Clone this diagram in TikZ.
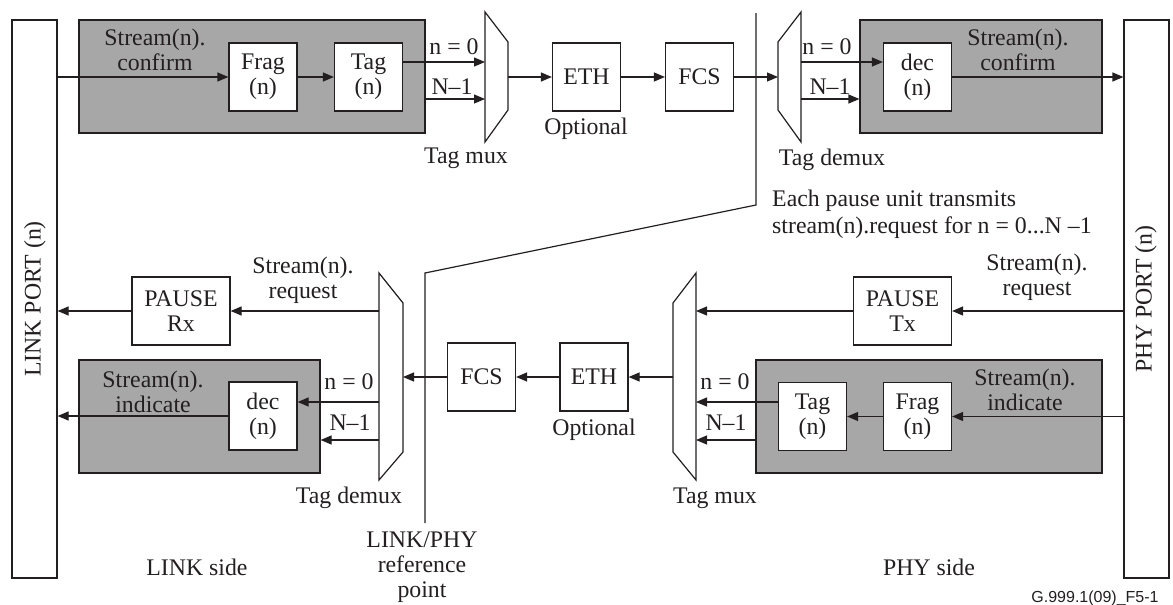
\documentclass[tikz,border=0pt]{standalone}
\usepackage{fontspec}
\setmainfont{Liberation Serif}
\newfontfamily\labsans{Liberation Sans}
\usetikzlibrary{arrows.meta}
\definecolor{lc}{HTML}{231F20}
\definecolor{grpfill}{HTML}{A7A7A7}
\newcommand{\mfs}{\fontsize{23.8}{25}\selectfont}
\tikzset{
  every node/.style={font=\mfs, text=lc, inner sep=0pt},
  blk/.style={draw=lc, line width=1.2pt, fill=white, align=center, minimum width=68pt, minimum height=68pt},
  wblk/.style={blk, minimum width=98pt},
  grp/.style={draw=lc, line width=1.2pt, fill=grpfill},
  port/.style={draw=lc, line width=1.2pt, fill=white, minimum width=45pt, minimum height=558pt},
  ln/.style={draw=lc, line width=1.2pt},
  arr/.style={draw=lc, line width=1.2pt, -{Triangle[length=11pt,width=9pt]}},
  lbl/.style={align=center}
}
\begin{document}
\begin{tikzpicture}[x=1pt,y=-1pt]
\useasboundingbox (0,0) rectangle (1173,605);

% ports
\node[port] (lport) at (34.5,299) {};
\node[port] (pport) at (1146.5,299) {};
\node[rotate=90] (lportlbl) at (35,299) {LINK PORT (n)};
\node[rotate=90] (pportlbl) at (1146,299) {PHY PORT (n)};

% grey groups
\node[grp, minimum width=346pt, minimum height=113pt] (gTL) at (252,76.5) {};
\node[grp, minimum width=242pt, minimum height=113pt] (gTR) at (981,76.5) {};
\node[grp, minimum width=241pt, minimum height=113pt] (gBL) at (199.5,416.5) {};
\node[grp, minimum width=346pt, minimum height=113pt] (gBR) at (929,416.5) {};

% reference line
\coordinate (refTop) at (756,13);
\coordinate (refK1) at (756,205);
\coordinate (refK2) at (425,273);
\coordinate (refBot) at (425,523);
\draw[ln] (refTop) -- (refK1) -- (refK2) -- (refBot);

% top row blocks
\node[blk] (frag1) at (263,77) {Frag\\(n)};
\node[blk] (tag1) at (368.5,77) {Tag\\(n)};
\node[blk] (eth1) at (586.5,77) {ETH};
\node[blk] (fcs1) at (699.5,77) {FCS};
\node[blk] (dec1) at (917.5,77) {dec\\(n)};

% bottom row blocks
\node[wblk] (pauserx) at (181,311) {PAUSE\\Rx};
\node[wblk] (pausetx) at (902.5,311) {PAUSE\\Tx};
\node[blk] (dec2) at (263,416) {dec\\(n)};
\node[blk] (fcs2) at (481.5,377) {FCS};
\node[blk] (eth2) at (594,377) {ETH};
\node[blk] (tag2) at (812.5,416.5) {Tag\\(n)};
\node[blk] (frag2) at (917.5,416.5) {Frag\\(n)};

% mux / demux shapes
\draw[ln, fill=white] (485,12) -- (508,42) -- (508,110) -- (485,142) -- cycle;
\draw[ln, fill=white] (801,12) -- (778,42) -- (778,110) -- (801,142) -- cycle;
\draw[ln, fill=white] (379,273) -- (403,303) -- (403,452) -- (379,480) -- cycle;
\draw[ln, fill=white] (696,273) -- (673,303) -- (673,452) -- (696,480) -- cycle;

\coordinate (muxTn0) at (485,62);
\coordinate (muxTn1) at (485,99);
\coordinate (muxTout) at (508,77);
\coordinate (demTin) at (778,77);
\coordinate (demTn0) at (801,62);
\coordinate (demTn1) at (801,99);
\coordinate (demBin) at (403,377);
\coordinate (demBreq) at (379,311);
\coordinate (demBn0) at (379,402);
\coordinate (demBn1) at (379,440);
\coordinate (muxBout) at (673,377);
\coordinate (muxBreq) at (696,311);
\coordinate (muxBn0) at (696,402);
\coordinate (muxBn1) at (696,440);

% top connectors
\draw[arr] (lport.east |- frag1.west) -- (frag1.west);
\draw[arr] (frag1) -- (tag1);
\draw[arr] (tag1.east |- muxTn0) -- (muxTn0);
\draw[arr] (gTL.east |- muxTn1) -- (muxTn1);
\draw[arr] (muxTout) -- (eth1.west);
\draw[arr] (eth1) -- (fcs1);
\draw[arr] (fcs1.east) -- (demTin);
\draw[arr] (demTn0) -- (dec1.west |- demTn0);
\draw[arr] (demTn1) -- (gTR.west |- demTn1);
\draw[arr] (dec1.east) -- (pport.west |- dec1.east);

% bottom connectors
\draw[arr] (pport.west |- pausetx.east) -- (pausetx.east);
\draw[arr] (pausetx.west) -- (muxBreq);
\draw[arr] (pport.west |- frag2.east) -- (frag2.east);
\draw[arr] (frag2) -- (tag2);
\draw[arr] (tag2.west |- muxBn0) -- (muxBn0);
\draw[arr] (gBR.west |- muxBn1) -- (muxBn1);
\draw[arr] (muxBout) -- (eth2.east);
\draw[arr] (eth2) -- (fcs2);
\draw[arr] (fcs2.west) -- (demBin);
\draw[arr] (demBreq) -- (pauserx.east);
\draw[arr] (pauserx.west) -- (lport.east |- pauserx.west);
\draw[arr] (demBn0) -- (dec2.east |- demBn0);
\draw[arr] (demBn1) -- (gBL.east |- demBn1);
\draw[arr] (dec2.west) -- (lport.east |- dec2.west);

% labels
\node[lbl] (confL) at (155,50) {Stream(n).\\confirm};
\node[lbl] (confR) at (1018,50) {Stream(n).\\confirm};
\node (n0TL) at (454,47) {n = 0};
\node (n1TL) at (452,87) {N--1};
\node (n0TR) at (827,47) {n = 0};
\node (n1TR) at (830,87) {N--1};
\node (tmuxT) at (466,158) {Tag mux};
\node (optT) at (586,129) {Optional};
\node (tdemT) at (832,160) {Tag demux};
\node[align=left, anchor=base west, font=\fontsize{23.8}{27}\selectfont] (note) at (772,233) {Each pause unit transmits\\stream(n).request for n = 0...N --1};
\node[lbl] (reqL) at (303,280) {Stream(n).\\request};
\node[lbl] (reqR) at (1037,277) {Stream(n).\\request};
\node[lbl] (indL) at (153,392) {Stream(n).\\indicate};
\node[lbl] (indR) at (1025,390) {Stream(n).\\indicate};
\node (n0BL) at (349,382) {n = 0};
\node (n1BL) at (350,423) {N--1};
\node (n0BR) at (725,382) {n = 0};
\node (n1BR) at (726,423) {N--1};
\node (tdemB) at (349,498) {Tag demux};
\node (tmuxB) at (715,498) {Tag mux};
\node (optB) at (594,430) {Optional};
\node[lbl] (refpt) at (422,567) {LINK/PHY\\reference\\point};
\node (lside) at (197,567) {LINK side};
\node (pside) at (929,567) {PHY side};
\node[font=\labsans\fontsize{16}{18}\selectfont] (figid) at (1095,598) {G.999.1(09)\_F5-1};
\end{tikzpicture}
\end{document}
